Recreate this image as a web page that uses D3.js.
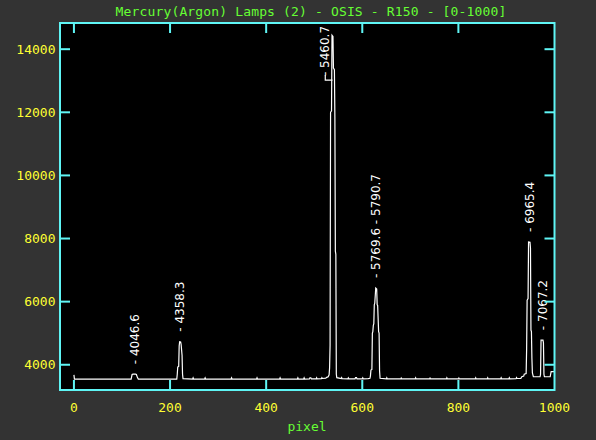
<!DOCTYPE html>
<html>
<head>
<meta charset="utf-8">
<script src="https://cdn.jsdelivr.net/npm/d3@7/dist/d3.min.js"></script>
<style>
  body { margin: 0; background: #333333; }
  svg { display: block; }
</style>
</head>
<body>
<svg></svg>
<script>
 let width = 596, height = 440

 let title = "Mercury(Argon) Lamps (2) - OSIS - R150 - [0-1000]"
 let xTitle = "pixel"
 let xTicks = [0, 200, 400, 600, 800, 1000]
 let yTicks = [4000, 6000, 8000, 10000, 12000, 14000]

 // [pixel, counts]
 let spectrum = [
  [0,3680],[1,3547],
  [119,3547],[121,3690],[123,3700],[128,3700],[130,3690],[132,3600],[134,3547],
  [214,3547],[215,3700],[216,3930],[218,3950],[219,4600],[220,4730],[222,4720],[223,4650],[224,4470],[225,4300],[226,3700],[227,3560],
  [247,3547],[248,3585],[249,3547],
  [272,3547],[273,3585],[274,3547],
  [327,3547],[328,3585],[329,3547],
  [380,3547],[381,3585],[382,3547],
  [428,3547],[429,3585],[430,3547],
  [465,3547],[466,3585],[467,3547],
  [478,3547],[479,3585],[480,3547],
  [490,3550],[491,3585],[493,3585],[494,3550],
  [504,3550],[505,3585],[506,3550],
  [515,3560],[516,3590],[517,3565],
  [524,3575],[526,3600],[529,3620],[531,3680],[532,3900],[533,4620],[534,12000],[536,12050],[537,14440],[539,14400],[540,13400],[542,13350],[543,11850],[544,7600],[545,7500],[546,3700],[547,3590],
  [556,3560],[557,3590],[558,3560],
  [570,3555],[571,3585],[572,3555],
  [585,3555],[586,3590],[588,3590],[589,3555],
  [600,3555],[601,3585],[602,3555],
  [612,3560],[616,3570],[617,3650],[618,3830],[620,3850],[621,5000],[622,5050],[623,5250],[624,5300],[625,5900],[626,5950],[628,6430],[630,6400],[631,5900],[632,5880],[634,5050],[635,5000],[636,3800],[637,3570],
  [650,3550],[651,3585],[652,3550],
  [680,3550],[681,3580],[682,3550],
  [710,3550],[711,3585],[712,3550],
  [740,3550],[741,3580],[742,3550],
  [775,3550],[776,3585],[777,3550],
  [800,3550],[801,3580],[802,3550],
  [835,3550],[836,3585],[837,3550],
  [860,3550],[861,3585],[862,3550],
  [888,3555],[889,3590],[890,3555],
  [905,3555],[906,3590],[907,3555],
  [920,3560],[921,3595],[922,3565],
  [930,3570],[932,3620],[936,3640],[937,3700],[941,3720],[942,4500],[943,6050],[945,6100],[946,7890],[949,7880],[950,7700],[951,5100],[952,5050],[953,4200],[954,3740],[956,3620],
  [970,3620],[971,3700],[972,4780],[976,4780],[977,4700],[978,3700],[979,3620],
  [991,3620],[992,3700],[993,3780],[1000,3780]
 ]

 // line identifications: label text, pixel of label, counts where label starts, pixel of the line
 let lineNames = ["4046.6", "4358.3", "5460.7", "5769.6 - 5790.7", "6965.4", "7067.2"]
 let linePixel = [127.5, 221, 523, 629, 949, 976]
 let lineLevel = [3700, 4730, 13020, 6430, 7890, 4780]
 let linePeak = [127.5, 221, 538, 629, 949, 976]

 let svg = d3.select("svg").attr("width", width).attr("height", height)
 svg.append("rect").attr("width", width).attr("height", height).attr("fill", "#333333")

 let pLeft = 60, pRight = 554.5, pTop = 23, pBottom = 390
 let x = d3.scaleLinear().domain([-29, 1000]).range([pLeft, pRight])
 let y = d3.scaleLinear().domain([3200, 14830]).range([pBottom, pTop])

 let axisColor = "#5ff5f5"
 let mono = "'DejaVu Sans Mono', monospace"

 svg.append("rect")
    .attr("x", pLeft).attr("y", pTop)
    .attr("width", pRight - pLeft).attr("height", pBottom - pTop)
    .attr("fill", "black")

 // spectrum
 let line = d3.line().x(d => x(d[0])).y(d => y(d[1]))
 svg.append("path")
    .datum(spectrum)
    .attr("d", line)
    .attr("fill", "none")
    .attr("stroke", "white")
    .attr("stroke-width", 1.2)

 // labels for the lines
 let labels = svg.append("g").selectAll("g")
    .data(lineNames.map((t, i) => ({ text: t, px: linePixel[i], level: lineLevel[i], peak: linePeak[i] })))
    .enter().append("g")

 labels.append("text")
    .attr("transform", d => "translate(" + x(d.px) + "," + (y(d.level) - (d.px == d.peak ? 10 : 4)) + ") rotate(-90)")
    .attr("dy", "0.35em")
    .attr("fill", "white")
    .style("font-family", "'DejaVu Sans', sans-serif")
    .style("font-size", "12px")
    .text(d => "- " + d.text)

 labels.filter(d => d.px != d.peak).append("path")
    .attr("d", d => "M" + x(d.px) + "," + (y(d.level) - 5) + "V" + y(d.level) + "H" + x(d.peak))
    .attr("fill", "none")
    .attr("stroke", "white")
    .attr("stroke-width", 1.2)

 // frame and ticks
 let frame = svg.append("g").attr("stroke", axisColor).attr("stroke-width", 2)
 frame.append("rect")
    .attr("x", pLeft).attr("y", pTop)
    .attr("width", pRight - pLeft).attr("height", pBottom - pTop)
    .attr("fill", "none")

 let tl = 10
 frame.selectAll(".xb").data(xTicks.slice(0, -1)).enter().append("line")
    .attr("x1", d => x(d)).attr("x2", d => x(d))
    .attr("y1", pBottom).attr("y2", pBottom - tl)
 frame.selectAll(".xt").data(xTicks.slice(0, -1)).enter().append("line")
    .attr("x1", d => x(d)).attr("x2", d => x(d))
    .attr("y1", pTop).attr("y2", pTop + tl)
 frame.selectAll(".yl").data(yTicks).enter().append("line")
    .attr("x1", pLeft).attr("x2", pLeft + tl)
    .attr("y1", d => y(d)).attr("y2", d => y(d))
 frame.selectAll(".yr").data(yTicks).enter().append("line")
    .attr("x1", pRight).attr("x2", pRight - tl)
    .attr("y1", d => y(d)).attr("y2", d => y(d))

 // tick labels
 svg.append("g").selectAll("text")
    .data(xTicks).enter().append("text")
    .attr("x", d => x(d)).attr("y", 411.5)
    .attr("text-anchor", "middle")
    .attr("fill", "#ffff33")
    .style("font-family", mono).style("font-size", "13px")
    .text(d => d)

 svg.append("g").selectAll("text")
    .data(yTicks).enter().append("text")
    .attr("x", 55.5).attr("y", d => y(d) + 4.7)
    .attr("text-anchor", "end")
    .attr("fill", "#ffff33")
    .style("font-family", mono).style("font-size", "13px")
    .text(d => d)

 svg.append("text")
    .attr("x", 311).attr("y", 16)
    .attr("text-anchor", "middle")
    .attr("fill", "#66ff33")
    .style("font-family", mono).style("font-size", "13px")
    .style("letter-spacing", "0.15px")
    .text(title)

 svg.append("text")
    .attr("x", 307).attr("y", 430.5)
    .attr("text-anchor", "middle")
    .attr("fill", "#66ff33")
    .style("font-family", mono).style("font-size", "13px")
    .text(xTitle)
</script>
</body>
</html>
